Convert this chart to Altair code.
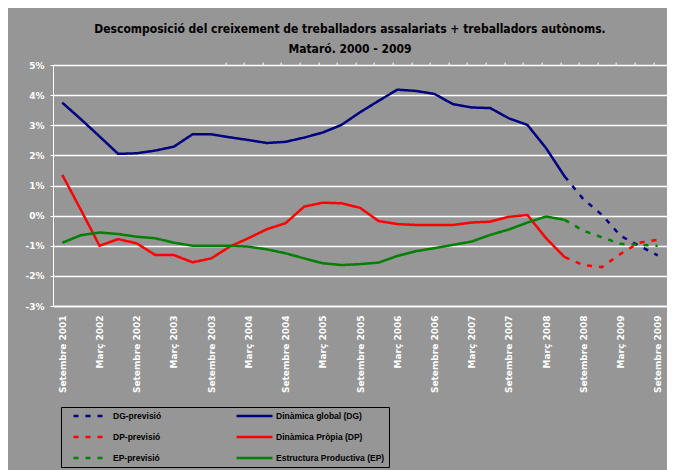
import altair as alt
import pandas as pd

# ---------------- data ----------------
categories = []
for yr in range(2001, 2010):
    for m in ["Març", "Juny", "Setembre", "Desembre"]:
        categories.append(f"{m} {yr}")
categories = categories[2:2 + 33]  # Setembre 2001 ... Setembre 2009

# legend order (column-major: forecasts in the left column, observed on the right)
series_names = [
    "DG-previsió", "DP-previsió", "EP-previsió",
    "Dinàmica global (DG)", "Dinàmica Pròpia (DP)", "Estructura Productiva (EP)",
]
series_colors = ["#000080", "#FF0000", "#008000", "#000080", "#FF0000", "#008000"]
series_dashes = [[5, 7], [5, 7], [5, 7], [1, 0], [1, 0], [1, 0]]

# observed (Setembre 2001 .. Juny 2008)
dg_real = [3.75, 3.20, 2.63, 2.05, 2.07, 2.16, 2.29, 2.70, 2.70, 2.60, 2.51, 2.41,
           2.45, 2.59, 2.76, 3.01, 3.43, 3.81, 4.18, 4.14, 4.04, 3.70, 3.59, 3.57,
           3.23, 3.01, 2.24, 1.30]
dp_real = [1.35, 0.19, -1.00, -0.78, -0.92, -1.31, -1.31, -1.55, -1.42, -1.03, -0.75, -0.45,
           -0.25, 0.30, 0.43, 0.41, 0.26, -0.18, -0.28, -0.31, -0.31, -0.31, -0.23, -0.20,
           -0.04, 0.02, -0.75, -1.38]
ep_real = [-0.90, -0.65, -0.56, -0.61, -0.70, -0.75, -0.90, -1.00, -1.00, -1.00, -1.03, -1.12,
           -1.25, -1.42, -1.58, -1.64, -1.61, -1.56, -1.34, -1.18, -1.08, -0.97, -0.86, -0.64,
           -0.46, -0.23, -0.03, -0.14]
# forecasts (Juny 2008 .. Setembre 2009)
dg_prev = [1.30, 0.55, 0.03, -0.67, -1.00, -1.32]
dp_prev = [-1.38, -1.64, -1.71, -1.27, -0.90, -0.80]
ep_prev = [-0.14, -0.50, -0.72, -0.93, -0.97, -1.00]

real_start = 0
prev_start = 27

def rows(name, vals, start):
    return [{"idx": start + i, "val": v, "serie": name} for i, v in enumerate(vals)]

df_real = pd.DataFrame(rows("Dinàmica global (DG)", dg_real, real_start)
                       + rows("Dinàmica Pròpia (DP)", dp_real, real_start)
                       + rows("Estructura Productiva (EP)", ep_real, real_start))
df_prev = pd.DataFrame(rows("DG-previsió", dg_prev, prev_start)
                       + rows("DP-previsió", dp_prev, prev_start)
                       + rows("EP-previsió", ep_prev, prev_start))

# ---------------- chart ----------------
W, H = 614, 241
n = len(categories)
label_values = list(range(0, n, 2))
tick_values = [i + 0.5 for i in range(n - 1)]
cat_array = "[" + ",".join("'" + c + "'" for c in categories) + "]"

xscale = alt.Scale(domain=[-0.5, n - 0.5], nice=False, zero=False)
yscale = alt.Scale(domain=[-3, 5], nice=False)
yaxis = alt.Axis(values=list(range(-3, 6)), labelExpr="datum.value + '%'",
                 grid=True, gridColor="#FFFFFF", gridWidth=1.5,
                 domainColor="#FFFFFF", tickColor="#FFFFFF", tickSize=3,
                 labelColor="#FFFFFF", labelFont="DejaVu Sans", labelFontSize=9,
                 labelFontWeight="bold", labelPadding=6, title=None)

legend = alt.Legend(orient="none", legendX=8, legendY=342, columns=2, title=None,
                    symbolType="stroke", symbolSize=1296, symbolStrokeWidth=2.5,
                    clipHeight=10,
                    labelFont="Liberation Sans", labelFontSize=8.5, labelFontWeight="bold",
                    labelColor="#000000", labelOffset=2, columnPadding=66, rowPadding=11,
                    padding=4, symbolOffset=7, fillColor="#969696", strokeColor="#000000",
                    labelLimit=300)

color = alt.Color("serie:N", scale=alt.Scale(domain=series_names, range=series_colors), legend=legend)
dash = alt.StrokeDash("serie:N", scale=alt.Scale(domain=series_names, range=series_dashes), legend=legend)

real = alt.Chart(df_real).mark_line(strokeWidth=2.5).encode(
    x=alt.X("idx:Q", scale=xscale,
            axis=alt.Axis(orient="bottom", values=label_values, grid=False,
                          labelExpr=cat_array + "[datum.value]", labelAngle=-90,
                          labelColor="#FFFFFF", labelFont="DejaVu Sans", labelFontSize=9,
                          labelFontWeight="bold", labelPadding=9, ticks=False,
                          domainColor="#FFFFFF", domainWidth=1.5, title=None,
                          labelOverlap=False)),
    y=alt.Y("val:Q", scale=yscale, axis=yaxis),
    color=color, strokeDash=dash,
)

prev = alt.Chart(df_prev).mark_line(strokeWidth=2.5).encode(
    x=alt.X("idx:Q", scale=xscale,
            axis=alt.Axis(orient="top", values=tick_values, grid=False, labels=False,
                          domain=False, ticks=True, tickColor="#FFFFFF", tickSize=3,
                          position=H * 5 / 8 + 3, title=None)),
    y=alt.Y("val:Q", scale=yscale, axis=yaxis),
    color=color, strokeDash=dash,
)

title_font = "DejaVu Sans Condensed, Liberation Sans Narrow, Liberation Sans, sans-serif"

chart = alt.layer(real, prev).resolve_axis(x="independent").properties(
    width=W, height=H,
    autosize=alt.AutoSizeParams(type="none"),
    padding={"left": 45, "top": 57, "right": 0, "bottom": 164},
    background="#969696",
    title=alt.TitleParams(
        text="Descomposició del creixement de treballadors assalariats + treballadors autònoms.",
        subtitle="Mataró. 2000 - 2009",
        font=title_font, fontSize=12, fontWeight="bold", color="#000000",
        subtitleFont=title_font, subtitleFontSize=12, subtitleFontWeight="bold",
        subtitleColor="#000000", subtitlePadding=8, anchor="middle", offset=5, dx=-10,
    ),
).configure_view(stroke=None)

chart.save("out.html", embed_options={"renderer": "svg", "actions": False})
